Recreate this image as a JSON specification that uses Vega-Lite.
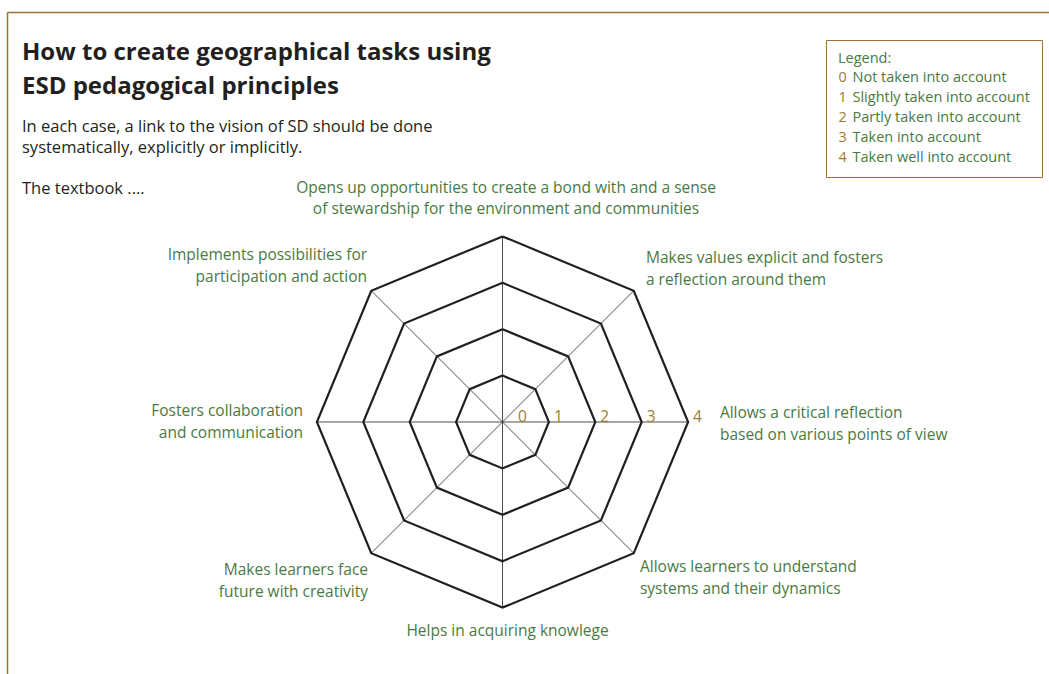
{
  "$schema": "https://vega.github.io/schema/vega-lite/v6.json",
  "width": 1042,
  "height": 662,
  "autosize": {"type": "none"},
  "padding": {"left": 7, "top": 12, "right": 0, "bottom": 0},
  "background": "white",
  "config": {
    "view": {"stroke": null},
    "font": "Open Sans",
    "axis": {"domainColor": "#9c7432", "domainWidth": 1.5, "ticks": false, "labels": false, "grid": false, "title": null}
  },
  "title": {
    "text": ["How to create geographical tasks using", "ESD pedagogical principles"],
    "subtitle": ["In each case, a link to the vision of SD should be done", "systematically, explicitly or implicitly.", "\u2800", "The textbook ...."],
    "anchor": "start",
    "frame": "group",
    "orient": "top",
    "offset": -185,
    "dx": 15,
    "font": "Open Sans",
    "fontSize": 24,
    "fontWeight": "bold",
    "color": "#231f20",
    "lineHeight": 34,
    "subtitleFont": "Open Sans",
    "subtitleFontSize": 16.5,
    "subtitleColor": "#231f20",
    "subtitleLineHeight": 20.5,
    "subtitlePadding": 20.5
  },
  "datasets": {
    "levels": [
      {"level": 0, "description": "Not taken into account"},
      {"level": 1, "description": "Slightly taken into account"},
      {"level": 2, "description": "Partly taken into account"},
      {"level": 3, "description": "Taken into account"},
      {"level": 4, "description": "Taken well into account"}
    ],
    "rings": [
      {"level": 1, "vertex": 0}, {"level": 1, "vertex": 1}, {"level": 1, "vertex": 2}, {"level": 1, "vertex": 3}, {"level": 1, "vertex": 4}, {"level": 1, "vertex": 5}, {"level": 1, "vertex": 6}, {"level": 1, "vertex": 7}, {"level": 1, "vertex": 8},
      {"level": 2, "vertex": 0}, {"level": 2, "vertex": 1}, {"level": 2, "vertex": 2}, {"level": 2, "vertex": 3}, {"level": 2, "vertex": 4}, {"level": 2, "vertex": 5}, {"level": 2, "vertex": 6}, {"level": 2, "vertex": 7}, {"level": 2, "vertex": 8},
      {"level": 3, "vertex": 0}, {"level": 3, "vertex": 1}, {"level": 3, "vertex": 2}, {"level": 3, "vertex": 3}, {"level": 3, "vertex": 4}, {"level": 3, "vertex": 5}, {"level": 3, "vertex": 6}, {"level": 3, "vertex": 7}, {"level": 3, "vertex": 8},
      {"level": 4, "vertex": 0}, {"level": 4, "vertex": 1}, {"level": 4, "vertex": 2}, {"level": 4, "vertex": 3}, {"level": 4, "vertex": 4}, {"level": 4, "vertex": 5}, {"level": 4, "vertex": 6}, {"level": 4, "vertex": 7}, {"level": 4, "vertex": 8}
    ],
    "axes": [
      {"axis": 0, "label": ["Opens up opportunities to create a bond with and a sense", "of stewardship for the environment and communities"]},
      {"axis": 1, "label": ["Makes values explicit and fosters", "a reflection around them"]},
      {"axis": 2, "label": ["Allows a critical reflection", "based on various points of view"]},
      {"axis": 3, "label": ["Allows learners to understand", "systems and their dynamics"]},
      {"axis": 4, "label": ["Helps in acquiring knowlege"]},
      {"axis": 5, "label": ["Makes learners face", "future with creativity"]},
      {"axis": 6, "label": ["Fosters collaboration", "and communication"]},
      {"axis": 7, "label": ["Implements possibilities for", "participation and action"]}
    ]
  },
  "layer": [
    {
      "data": {"name": "axes"},
      "transform": [
        {"calculate": "4*sin(datum.axis*PI/4)", "as": "ex"},
        {"calculate": "4*cos(datum.axis*PI/4)", "as": "ey"},
        {"calculate": "0", "as": "ox"},
        {"calculate": "0", "as": "oy"}
      ],
      "mark": {"type": "rule", "color": "#3a3a3a", "strokeWidth": 0.9},
      "encoding": {
        "x": {"field": "ox", "type": "quantitative", "scale": {"domain": [-10.679, 11.778], "nice": false, "zero": false}, "axis": {"orient": "top"}},
        "y": {"field": "oy", "type": "quantitative", "scale": {"domain": [-5.431, 8.836], "nice": false, "zero": false}, "axis": {"orient": "left"}},
        "x2": {"field": "ex"},
        "y2": {"field": "ey"}
      }
    },
    {
      "data": {"name": "rings"},
      "transform": [
        {"calculate": "datum.level*sin(datum.vertex*PI/4)", "as": "px"},
        {"calculate": "datum.level*cos(datum.vertex*PI/4)", "as": "py"}
      ],
      "mark": {"type": "line", "strokeWidth": 2.2, "strokeJoin": "miter"},
      "encoding": {
        "x": {"field": "px", "type": "quantitative", "scale": {"domain": [-10.679, 11.778], "nice": false, "zero": false}, "axis": {"orient": "top"}},
        "y": {"field": "py", "type": "quantitative", "scale": {"domain": [-5.431, 8.836], "nice": false, "zero": false}, "axis": {"orient": "left"}},
        "order": {"field": "vertex", "type": "quantitative"},
        "stroke": {
          "field": "level",
          "type": "ordinal",
          "scale": {"domain": [0, 1, 2, 3, 4], "range": ["#231f20", "#231f20", "#231f20", "#231f20", "#231f20"]},
          "legend": {
            "orient": "none",
            "legendX": 819,
            "legendY": 28,
            "title": "Legend:",
            "titleColor": "#4a7a43",
            "titleFont": "Open Sans",
            "titleFontSize": 14.5,
            "titleFontWeight": "normal",
            "titlePadding": 4,
            "padding": 12,
            "strokeColor": "#9c7432",
            "symbolSize": 0,
            "symbolOpacity": 0,
            "symbolStrokeWidth": 0,
            "labelOffset": 0,
            "labelColor": "#4a7a43",
            "labelFont": "Open Sans",
            "labelFontSize": 14.5,
            "labelLimit": 400,
            "rowPadding": 5,
            "labelExpr": "['\u2007 Not taken into account', '\u2007 Slightly taken into account', '\u2007 Partly taken into account', '\u2007 Taken into account', '\u2007 Taken well into account'][datum.value]"
          }
        }
      }
    },
    {
      "data": {"name": "levels"},
      "layer": [
        {
          "transform": [{"filter": "datum.level > 0"}],
          "mark": {"type": "text", "align": "left", "baseline": "alphabetic", "dx": 5, "fontSize": 15.5, "font": "Open Sans"},
          "encoding": {
            "x": {"field": "level", "type": "quantitative", "scale": {"domain": [-10.679, 11.778], "nice": false, "zero": false}, "axis": {"orient": "top"}},
            "y": {"datum": 0, "type": "quantitative", "scale": {"domain": [-5.431, 8.836], "nice": false, "zero": false}, "axis": {"orient": "left"}},
            "text": {"field": "level", "type": "quantitative"},
            "fill": {
              "field": "level",
              "type": "ordinal",
              "scale": {"range": ["#a27b2e", "#a27b2e", "#a27b2e", "#a27b2e", "#a27b2e"]},
              "legend": {
                "orient": "none",
                "legendX": 805,
                "legendY": 46.5,
                "title": null,
                "padding": 12,
                "symbolSize": 0,
                "symbolOpacity": 0,
                "symbolStrokeWidth": 0,
                "labelOffset": 0,
                "labelColor": "#a27b2e",
                "labelFont": "Open Sans",
                "labelFontSize": 14.5,
                "rowPadding": 5
              }
            }
          }
        },
        {
          "transform": [{"filter": "datum.level == 0"}],
          "mark": {"type": "text", "align": "left", "baseline": "alphabetic", "dx": 15.5, "fontSize": 15.5, "font": "Open Sans"},
          "encoding": {
            "x": {"field": "level", "type": "quantitative", "scale": {"domain": [-10.679, 11.778], "nice": false, "zero": false}, "axis": {"orient": "top"}},
            "y": {"datum": 0, "type": "quantitative", "scale": {"domain": [-5.431, 8.836], "nice": false, "zero": false}, "axis": {"orient": "left"}},
            "text": {"field": "level", "type": "quantitative"},
            "fill": {"field": "level", "type": "ordinal"}
          }
        }
      ]
    },
    {
      "data": {"name": "axes"},
      "transform": [
        {"calculate": "4*sin(datum.axis*PI/4)", "as": "ex"},
        {"calculate": "4*cos(datum.axis*PI/4)", "as": "ey"}
      ],
      "encoding": {
        "x": {"field": "ex", "type": "quantitative", "scale": {"domain": [-10.679, 11.778], "nice": false, "zero": false}, "axis": {"orient": "top"}},
        "y": {"field": "ey", "type": "quantitative", "scale": {"domain": [-5.431, 8.836], "nice": false, "zero": false}, "axis": {"orient": "left"}},
        "text": {"field": "label", "type": "nominal"}
      },
      "layer": [
        {"transform": [{"filter": "datum.axis == 0"}], "mark": {"type": "text", "align": "center", "baseline": "middle", "dx": 3.5, "dy": -48.8, "fontSize": 15.5, "lineHeight": 21.5, "color": "#4a7a43", "font": "Open Sans"}},
        {"transform": [{"filter": "datum.axis == 1"}], "mark": {"type": "text", "align": "left", "baseline": "middle", "dx": 12.2, "dy": -32.7, "fontSize": 15.5, "lineHeight": 21.5, "color": "#4a7a43", "font": "Open Sans"}},
        {"transform": [{"filter": "datum.axis == 2"}], "mark": {"type": "text", "align": "left", "baseline": "middle", "dx": 31.8, "dy": -8.5, "fontSize": 15.5, "lineHeight": 21.5, "color": "#4a7a43", "font": "Open Sans"}},
        {"transform": [{"filter": "datum.axis == 3"}], "mark": {"type": "text", "align": "left", "baseline": "middle", "dx": 6.2, "dy": 14.2, "fontSize": 15.5, "lineHeight": 21.5, "color": "#4a7a43", "font": "Open Sans"}},
        {"transform": [{"filter": "datum.axis == 4"}], "mark": {"type": "text", "align": "center", "baseline": "middle", "dx": 5, "dy": 23.3, "fontSize": 15.5, "lineHeight": 21.5, "color": "#4a7a43", "font": "Open Sans"}},
        {"transform": [{"filter": "datum.axis == 5"}], "mark": {"type": "text", "align": "right", "baseline": "middle", "dx": -3.2, "dy": 17.2, "fontSize": 15.5, "lineHeight": 21.5, "color": "#4a7a43", "font": "Open Sans"}},
        {"transform": [{"filter": "datum.axis == 6"}], "mark": {"type": "text", "align": "right", "baseline": "middle", "dx": -13.8, "dy": -10.5, "fontSize": 15.5, "lineHeight": 21.5, "color": "#4a7a43", "font": "Open Sans"}},
        {"transform": [{"filter": "datum.axis == 7"}], "mark": {"type": "text", "align": "right", "baseline": "middle", "dx": -4.2, "dy": -35.5, "fontSize": 15.5, "lineHeight": 21.5, "color": "#4a7a43", "font": "Open Sans"}}
      ]
    }
  ]
}
